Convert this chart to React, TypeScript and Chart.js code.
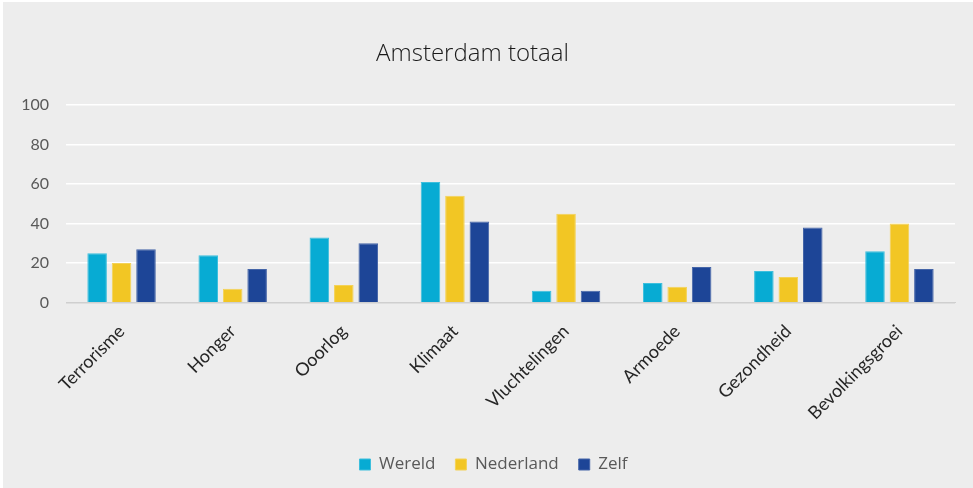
import React, { useEffect, useRef } from "react";
import { Chart, registerables } from "chart.js";

Chart.register(...registerables);

const categories = [
  "Terrorisme",
  "Honger",
  "Ooorlog",
  "Klimaat",
  "Vluchtelingen",
  "Armoede",
  "Gezondheid",
  "Bevolkingsgroei",
];
const wereld = [25, 24, 33, 61, 6, 10, 16, 26];
const nederland = [20, 7, 9, 54, 45, 8, 13, 40];
const zelf = [27, 17, 30, 41, 6, 18, 38, 17];
const yTicks = [0, 20, 40, 60, 80, 100];
const titleText = "Amsterdam totaal";

const blockShift = {
  id: "blockShift",
  afterLayout(chart: any) {
    const t = chart.titleBlock;
    if (t) {
      t.left -= 16;
      t.right -= 16;
    }
    const l = chart.legend;
    if (l) {
      l.left += 5;
      l.right += 5;
    }
  },
};

export default function App() {
  const ref = useRef<HTMLCanvasElement | null>(null);
  useEffect(() => {
    document.body.style.margin = "0";
    const canvas = ref.current;
    if (!canvas) return;
    const chart = new Chart(canvas, {
      type: "bar",
      data: {
        labels: categories,
        datasets: [
          { label: "Wereld", data: wereld, backgroundColor: "#07ABD3", borderColor: "#3cbfdd", borderWidth: 1 },
          { label: "Nederland", data: nederland, backgroundColor: "#F2C624", borderColor: "#f4d256", borderWidth: 1 },
          { label: "Zelf", data: zelf, backgroundColor: "#1D4597", borderColor: "#4565a8", borderWidth: 1 },
        ],
      },
      plugins: [blockShift],
      options: {
        animation: false,
        responsive: false,
        maintainAspectRatio: false,
        datasets: {
          bar: { categoryPercentage: 0.66, barPercentage: 0.8 },
        },
        layout: { padding: { left: 22, right: 18, top: 0, bottom: 5 } },
        plugins: {
          title: {
            display: true,
            text: titleText,
            color: "#1a1a1a",
            font: { family: "'Open Sans'", size: 24, weight: "300" },
            padding: { top: 40, bottom: 36 },
          },
          legend: {
            position: "bottom",
            labels: {
              boxWidth: 11,
              boxHeight: 11,
              padding: 20,
              color: "#595959",
              font: { family: "'Open Sans'", size: 17 },
            },
          },
          tooltip: { enabled: false },
        },
        scales: {
          x: {
            grid: { display: false, drawTicks: false },
            border: { display: true, color: "#cfcfcf", width: 1 },
            ticks: {
              color: "#262626",
              font: { family: "Lato", size: 18 },
              minRotation: 45,
              maxRotation: 45,
              padding: 18,
            },
            afterFit: (scale: any) => {
              scale.paddingLeft = 0;
              scale.paddingRight = 0;
              scale.height -= 6;
            },
          },
          y: {
            min: 0,
            max: 100,
            afterBuildTicks: (scale: any) => {
              scale.ticks = yTicks.map((v) => ({ value: v }));
            },
            afterFit: (scale: any) => {
              scale.width = 44;
            },
            grid: {
              drawTicks: false,
              color: (ctx: any) => (ctx.tick && ctx.tick.value === 0 ? "#cfcfcf" : "#ffffff"),
              lineWidth: 1.5,
            },
            border: { display: false },
            ticks: {
              color: "#595959",
              font: { family: "Lato", size: 16 },
              padding: 17,
            },
          },
        },
      },
    });
    return () => chart.destroy();
  }, []);

  return (
    <div style={{ position: "fixed", left: 0, top: 0, width: 973, height: 488, background: "#ffffff" }}>
      <div style={{ position: "absolute", left: 3, top: 2, right: 0, bottom: 0, background: "#ededed" }} />
      <canvas ref={ref} width={973} height={488} style={{ position: "absolute", left: 0, top: 0 }} />
    </div>
  );
}
